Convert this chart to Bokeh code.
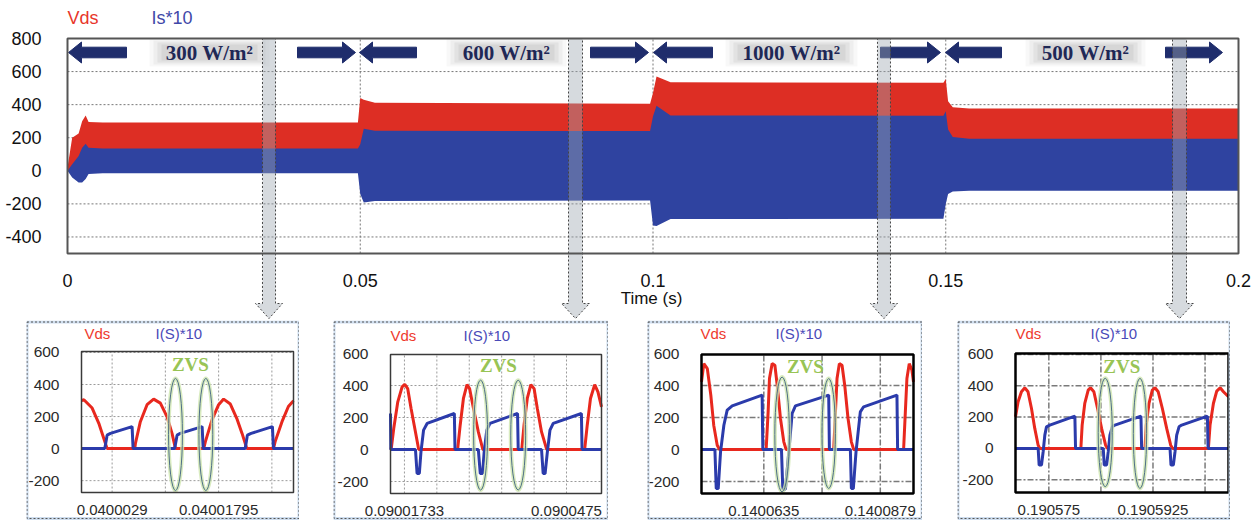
from bokeh.plotting import figure
from bokeh.models import Range1d, FixedTicker, Label, PolyAnnotation, BoxAnnotation, Spacer
from bokeh.layouts import column, row
from bokeh.embed import file_html
from bokeh.resources import INLINE

# ---------------- main chart data ----------------
x_ticks = [0, 0.05, 0.1, 0.15, 0.2]
x_tick_labels = ["0", "0.05", "0.1", "0.15", "0.2"]
y_ticks = [-400, -200, 0, 200, 400, 600, 800]
y_tick_labels = ["-400", "-200", "0", "200", "400", "600", "800"]
x_grid = [0.05, 0.1, 0.15]
y_grid = [-400, -200, 0, 200, 400, 600]
x_title = "Time (s)"

irr_labels = ["300 W/m\u00b2", "600 W/m\u00b2", "1000 W/m\u00b2", "500 W/m\u00b2"]
seg_start = [0.0, 0.05, 0.10, 0.15]
seg_end = [0.05, 0.10, 0.15, 0.20]

t_main = [0.0, 0.0008, 0.0019, 0.0025, 0.0031, 0.0036, 0.0060, 0.0496, 0.0500, 0.0506, 0.0525,
          0.0995, 0.1000, 0.1006, 0.1030, 0.1496, 0.1500, 0.1504, 0.1512, 0.1540, 0.2000]
vds_peak = [20, 200, 225, 300, 335, 295, 292, 292, 440, 430, 412,
            405, 470, 570, 535, 533, 555, 420, 385, 376, 376]
is_peak = [0, 40, 90, 140, 163, 140, 135, 135, 160, 254, 242,
           240, 330, 394, 335, 333, 360, 250, 205, 194, 194]
is_trough = [0, -40, -70, -70, -50, -20, -15, -15, -140, -192, -182,
             -180, -330, -333, -292, -290, -200, -140, -125, -121, -121]

# grey call-out bars (time window zoomed in each inset)
callout_t0 = [0.03330, 0.08557, 0.13834, 0.18873]
callout_t1 = [0.03553, 0.08796, 0.14056, 0.19112]

# ---------------- inset data (x in grid divisions) ----------------
inset_y_ticks = [-200, 0, 200, 400, 600]
inset_y_labels = ["-200", "0", "200", "400", "600"]

i1_ticks = [0, 2]
i1_labels = ["0.0400029", "0.04001795"]
i1_grid_x = [0, 1, 2, 3]
i1_red_x = [-0.575, -0.53, -0.375, -0.25, -0.156, -0.094, 0.425, 0.4375, 0.53, 0.656, 0.78, 0.906, 1.03, 1.125, 1.19,
            1.72, 1.75, 1.875, 2.0, 2.094, 2.22, 2.34, 2.44, 2.53, 3.03, 3.06, 3.19, 3.31, 3.406]
i1_red_y = [299, 305, 253, 158, 63, 0, 0, 32, 168, 274, 309, 284, 200, 95, 0,
            0, 42, 179, 274, 309, 278, 189, 95, 0, 0, 42, 168, 263, 299]
i1_blue_x = [-0.575, -0.1375, -0.094, -0.031, 0.375, 0.394, 1.175, 1.22, 1.28, 1.69, 1.71,
             2.5, 2.54, 2.61, 3.01, 3.03, 3.406]
i1_blue_y = [0, 0, 84, 95, 137, 0, 0, 84, 95, 137, 0, 0, 84, 95, 137, 0, 0]
i1_zvs_x = [1.19, 1.76]
i1_zvs_y = [88, 88]

i2_ticks = [0, 5]
i2_labels = ["0.09001733", "0.0900475"]
i2_grid_x = [0, 1, 2, 3, 4, 5]
i2_red_x = [-0.41, -0.33, -0.205, -0.072, 0.01, 0.10, 0.205, 0.34, 0.44,
            1.64, 1.72, 1.82, 1.93, 2.01, 2.13, 2.28, 2.42,
            3.62, 3.69, 3.79, 3.90, 4.0, 4.10, 4.23, 4.39,
            5.56, 5.64, 5.74, 5.87, 5.97, 6.08]
i2_red_y = [0, 131, 298, 392, 408, 381, 256, 110, 0,
            0, 152, 319, 406, 381, 256, 110, 0,
            0, 152, 319, 406, 381, 256, 110, 0,
            0, 152, 319, 406, 360, 267]
i2_blue_x = [-0.43, -0.42, 0.34, 0.39, 0.46, 0.51, 0.59, 0.70, 1.54, 1.56,
             2.28, 2.34, 2.41, 2.46, 2.54, 2.64, 3.49, 3.51,
             4.23, 4.28, 4.34, 4.41, 4.49, 4.59, 5.46, 5.48, 6.08]
i2_blue_y = [225, 0, 0, -150, -150, -15, 121, 163, 225, 0,
             0, -150, -150, -15, 121, 163, 225, 0,
             0, -150, -150, -15, 121, 163, 225, 0, 0]
i2_zvs_x = [2.35, 3.51]
i2_zvs_y = [90, 90]

i3_ticks = [0, 2]
i3_labels = ["0.1400635", "0.1400879"]
i3_grid_x = [0, 1, 2]
i3_red_x = [-1.07, -1.03, -0.97, -0.91, -0.86, -0.80, -0.76,
            0.04, 0.074, 0.097, 0.143, 0.19, 0.23, 0.286, 0.343, 0.383,
            1.2, 1.23, 1.257, 1.297, 1.343, 1.389, 1.446, 1.503, 1.543,
            2.4, 2.43, 2.457, 2.497, 2.543, 2.57]
i3_red_y = [423, 537, 506, 340, 152, 27, 0,
            0, 235, 444, 537, 527, 402, 194, 48, 0,
            0, 235, 444, 537, 527, 402, 194, 48, 0,
            0, 235, 444, 537, 496, 423]
i3_blue_x = [-1.07, -0.84, -0.817, -0.783, -0.743, -0.686, -0.629, -0.543, -0.029, -0.017,
             0.303, 0.326, 0.371, 0.429, 0.486, 0.543, 1.114, 1.126,
             1.486, 1.503, 1.537, 1.583, 1.657, 1.714, 2.286, 2.297, 2.57]
i3_blue_y = [0, 0, -244, -244, -15, 152, 246, 273, 340, 0,
             0, -248, -248, -15, 225, 273, 340, 0,
             0, -244, -244, -15, 235, 267, 340, 0, 0]
i3_zvs_x = [0.314, 1.114]
i3_zvs_y = [94, 100]

i4_ticks = [0, 2]
i4_labels = ["0.190575", "0.1905925"]
i4_grid_x = [0, 1, 2, 3]
i4_red_x = [-0.64, -0.59, -0.526, -0.46, -0.40, -0.333, -0.27, -0.205, -0.173,
            0.615, 0.64, 0.69, 0.756, 0.80, 0.865, 0.936, 1.013, 1.09, 1.128,
            1.846, 1.87, 1.923, 1.987, 2.038, 2.10, 2.18, 2.263, 2.34, 2.378,
            3.064, 3.096, 3.16, 3.224, 3.29, 3.353, 3.45]
i4_red_y = [202, 298, 362, 387, 362, 255, 128, 21, 0,
            0, 149, 287, 372, 387, 362, 255, 128, 21, 0,
            0, 149, 287, 372, 387, 362, 255, 128, 21, 0,
            0, 149, 287, 366, 387, 362, 330]
i4_blue_x = [-0.64, -0.205, -0.186, -0.141, -0.109, -0.077, -0.045, 0.019, 0.5, 0.513,
             1.045, 1.064, 1.109, 1.141, 1.173, 1.218, 1.269, 1.769, 1.782,
             2.327, 2.346, 2.391, 2.423, 2.455, 2.5, 2.551, 3.045, 3.058, 3.45]
i4_blue_y = [0, 0, -106, -106, -21, 85, 138, 149, 206, 0,
             0, -106, -106, -21, 85, 138, 149, 206, 0,
             0, -106, -106, -21, 85, 138, 149, 206, 0, 0]
i4_zvs_x = [1.083, 1.75]
i4_zvs_y = [102, 96]

# ---------------- styling ----------------
RED = "#dd2e24"
BLUE = "#2f43a0"
NAVY = "#1f2d6c"
SANS = "Liberation Sans"
SERIF = "Liberation Serif"


class Mapper:
    """pixel <-> data helper for a figure whose frame covers the whole canvas"""

    def __init__(self, w, h, bl, br, bt, bb, x0, x1, y0, y1):
        self.bl, self.bt = bl, bt
        self.x0, self.y1 = x0, y1
        self.sx = (x1 - x0) / (br - bl)
        self.sy = (y1 - y0) / (bb - bt)
        self.xr = (x0 - bl * self.sx, x1 + (w - br) * self.sx)
        self.yr = (y0 - (h - bb) * self.sy, y1 + bt * self.sy)

    def x(self, px):
        return self.x0 + (px - self.bl) * self.sx

    def y(self, py):
        return self.y1 - (py - self.bt) * self.sy


def style_axes(fig, size, color):
    for ax in (fig.xaxis, fig.yaxis):
        ax.axis_line_color = None
        ax.major_tick_line_color = None
        ax.minor_tick_line_color = None
        ax.major_label_text_font = SANS
        ax.major_label_text_font_size = size
        ax.major_label_text_color = color
    fig.xgrid.visible = False
    fig.ygrid.visible = False


# ---------------- main figure ----------------
W, H = 1260, 320
X0, X1, Y0, Y1 = 0.0, 0.2, -500, 800
m = Mapper(W, H, 67, 1238, 38, 253, X0, X1, Y0, Y1)

p = figure(width=W, height=H, x_range=Range1d(*m.xr), y_range=Range1d(*m.yr),
           output_backend="svg", toolbar_location=None,
           min_border_left=0, min_border_right=0, min_border_top=0, min_border_bottom=0)
p.background_fill_color = "white"
p.border_fill_color = "white"
p.outline_line_color = None

p.xaxis.ticker = FixedTicker(ticks=x_ticks)
p.xaxis.major_label_overrides = dict(zip(x_ticks, x_tick_labels))
p.yaxis.ticker = FixedTicker(ticks=y_ticks)
p.yaxis.major_label_overrides = dict(zip(y_ticks, y_tick_labels))
p.xaxis.fixed_location = Y0
p.yaxis.fixed_location = X0
style_axes(p, "18px", "#111111")
p.yaxis.major_label_standoff = 20
p.xaxis.major_label_standoff = 14

# dotted grid
p.segment(x0=x_grid, x1=x_grid, y0=[Y0] * len(x_grid), y1=[Y1] * len(x_grid),
          line_color="#777777", line_dash="2 2", line_width=1)
p.segment(x0=[X0] * len(y_grid), x1=[X1] * len(y_grid), y0=y_grid, y1=y_grid,
          line_color="#777777", line_dash="2 2", line_width=1)

p.varea(x=t_main, y1=[0] * len(t_main), y2=vds_peak, fill_color=RED)
p.varea(x=t_main, y1=is_trough, y2=is_peak, fill_color=BLUE)

p.add_layout(BoxAnnotation(left=X0, right=X1, bottom=Y0, top=Y1, fill_alpha=0,
                           line_color="#555555", line_alpha=1, line_width=2))

p.add_layout(Label(x=m.x(651), y=m.y(298), text=x_title, text_align="center", text_baseline="middle",
                   text_font=SANS, text_font_size="17px", text_color="#111111"))

# irradiance arrows and labels
arrow_px = [(68, 126, 297, 355), (359, 416, 590, 648), (653, 712, 880, 940), (945, 1001, 1165, 1222)]
label_px = [209, 506, 791, 1085]
AY, SH, HH, HL = 52, 5.3, 10.5, 13
for (lt, ltail, rtail, rt), cx, txt in zip(arrow_px, label_px, irr_labels):
    ys = [AY, AY - HH, AY - SH, AY - SH, AY + SH, AY + SH, AY + HH]
    xs = [lt, lt + HL, lt + HL, ltail, ltail, lt + HL, lt + HL]
    p.patch([m.x(v) for v in xs], [m.y(v) for v in ys], fill_color=NAVY, line_color=NAVY)
    xs = [rt, rt - HL, rt - HL, rtail, rtail, rt - HL, rt - HL]
    p.patch([m.x(v) for v in xs], [m.y(v) for v in ys], fill_color=NAVY, line_color=NAVY)
    half = 52 if len(txt) > 8 else 46
    for pad, alpha in ((14, 0.06), (10, 0.08), (6, 0.10), (2, 0.12)):
        p.quad(left=m.x(cx - half - pad), right=m.x(cx + half + pad), top=m.y(AY - 7 - pad / 2),
               bottom=m.y(AY + 7 + pad / 2), fill_color="#808080", fill_alpha=alpha, line_color=None)
    p.add_layout(Label(x=m.x(cx), y=m.y(AY), text=txt, text_align="center", text_baseline="middle",
                       text_font=SERIF, text_font_style="bold", text_font_size="21px",
                       text_color="#1f2856"))

# legend texts
p.add_layout(Label(x=m.x(67), y=m.y(17), text="Vds", text_baseline="middle", text_align="left",
                   text_font=SANS, text_font_size="18px", text_color="#e8352a"))
p.add_layout(Label(x=m.x(151), y=m.y(17), text="Is*10", text_baseline="middle", text_align="left",
                   text_font=SANS, text_font_size="18px", text_color="#3f48a8"))

# grey call-out bars with arrow heads pointing at the insets
dx = m.x(74) - m.x(67)
for t0, t1 in zip(callout_t0, callout_t1):
    tm = (t0 + t1) / 2
    ys = [Y1, Y1, m.y(303), m.y(303), m.y(318), m.y(303), m.y(303)]
    xs = [t0, t1, t1, t1 + dx, tm, t0 - dx, t0]
    p.patch(xs, ys, fill_color="#9ea6b0", fill_alpha=0.42,
            line_color="#444444", line_dash="2 2", line_width=1)


# ---------------- insets ----------------
def make_inset(w, bl, br, bt, bb, xr, yr, grid_x, ticks, labels, rx, ry, bx, by,
               zx, zy, zw, zh, zvs_pos, dark, leg):
    h = 201
    k = Mapper(w, h, bl, w - br, bt, h - bb, xr[0], xr[1], yr[0], yr[1])
    q = figure(width=w, height=h, x_range=Range1d(*k.xr), y_range=Range1d(*k.yr),
               output_backend="svg", toolbar_location=None,
               min_border_left=0, min_border_right=0, min_border_top=0, min_border_bottom=0)
    q.background_fill_color = "white"
    q.border_fill_color = "white"
    q.outline_line_color = None
    q.xaxis.ticker = FixedTicker(ticks=ticks)
    q.xaxis.major_label_overrides = dict(zip(ticks, labels))
    q.yaxis.ticker = FixedTicker(ticks=inset_y_ticks)
    q.yaxis.major_label_overrides = dict(zip(inset_y_ticks, inset_y_labels))
    q.xaxis.fixed_location = yr[0]
    q.yaxis.fixed_location = xr[0]
    style_axes(q, "15.5px", "#2a2a2a")
    q.xaxis.major_label_text_font_size = "15px"
    q.yaxis.major_label_standoff = 16
    q.xaxis.major_label_standoff = 6

    if dark:
        gkw = dict(line_color="#7a7a7a", line_dash="6 2 2 2", line_width=1.5)
    else:
        gkw = dict(line_color="#9a9a9a", line_dash="2 2", line_width=1)
    gy = [v for v in inset_y_ticks if yr[0] < v < yr[1]]
    q.segment(x0=grid_x, x1=grid_x, y0=[yr[0]] * len(grid_x), y1=[yr[1]] * len(grid_x), **gkw)
    q.segment(x0=[xr[0]] * len(gy), x1=[xr[1]] * len(gy), y0=gy, y1=gy, **gkw)

    q.line(rx, ry, line_color="#e8281e", line_width=3)
    q.line(bx, by, line_color="#2b3bab", line_width=3)
    q.ellipse(x=zx, y=zy, width=zw, height=zh, fill_color=None, line_color="#cfe6b0",
              line_width=4, line_alpha=0.8)
    q.ellipse(x=zx, y=zy, width=zw, height=zh, fill_color=None, line_color="#4d6f86",
              line_width=1)
    q.add_layout(BoxAnnotation(left=xr[0], right=xr[1], bottom=yr[0], top=yr[1], fill_alpha=0,
                               line_color="#000000" if dark else "#3a3a3a", line_alpha=1,
                               line_width=2.5 if dark else 1.5))
    q.add_layout(Label(x=zvs_pos[0], y=zvs_pos[1], text="ZVS", text_align="center",
                       text_baseline="middle", text_font=SERIF, text_font_style="bold",
                       text_font_size="19px", text_color="#98c455"))
    q.add_layout(Label(x=k.x(leg[0]), y=k.y(leg[2]), text="Vds", text_baseline="middle",
                       text_font=SANS, text_font_size="15px", text_color="#ee3a2e"))
    q.add_layout(Label(x=k.x(leg[1]), y=k.y(leg[2]), text="I(S)*10", text_baseline="middle",
                       text_font=SANS, text_font_size="15px", text_color="#4a4ab8"))
    bxs = [k.x(0.5), k.x(w - 0.5), k.x(w - 0.5), k.x(0.5)]
    bys = [k.y(1.5), k.y(1.5), k.y(198), k.y(198)]
    q.add_layout(PolyAnnotation(xs=bxs, ys=bys, fill_alpha=0, line_color="#c9d9ec",
                                line_alpha=0.9, line_width=3))
    q.add_layout(PolyAnnotation(xs=bxs, ys=bys, fill_alpha=0, line_color="#555555",
                                line_alpha=1, line_width=1, line_dash="2 2"))
    return q


q1 = make_inset(273, 55, 6, 31, 29, (-0.575, 3.406), (-274, 606), i1_grid_x, i1_ticks, i1_labels,
                i1_red_x, i1_red_y, i1_blue_x, i1_blue_y, i1_zvs_x, i1_zvs_y, [0.26, 0.26], [700, 700],
                (1.47, 526), False, (58, 129, 13))
q2 = make_inset(275, 57, 7, 34, 28, (-0.43, 6.08), (-275, 594), i2_grid_x, i2_ticks, i2_labels,
                i2_red_x, i2_red_y, i2_blue_x, i2_blue_y, i2_zvs_x, i2_zvs_y, [0.43, 0.46], [687, 687],
                (2.9, 523), False, (57, 130, 15))
q3 = make_inset(275, 54, 9, 34, 28, (-1.07, 2.57), (-275, 594), i3_grid_x, i3_ticks, i3_labels,
                i3_red_x, i3_red_y, i3_blue_x, i3_blue_y, i3_zvs_x, i3_zvs_y, [0.25, 0.23], [719, 687],
                (0.714, 517), True, (53, 128, 13))
q4 = make_inset(273, 58, 2, 33, 29, (-0.64, 3.45), (-281, 606), i4_grid_x, i4_ticks, i4_labels,
                i4_red_x, i4_red_y, i4_blue_x, i4_blue_y, i4_zvs_x, i4_zvs_y, [0.27, 0.256], [692, 702],
                (1.40, 521), True, (58, 133, 13))

bottom = row(Spacer(width=26, height=201), q1, Spacer(width=34, height=201), q2,
             Spacer(width=39, height=201), q3, Spacer(width=35, height=201), q4)
layout = column(p, bottom)

open("out.html", "w").write(file_html(layout, INLINE))
